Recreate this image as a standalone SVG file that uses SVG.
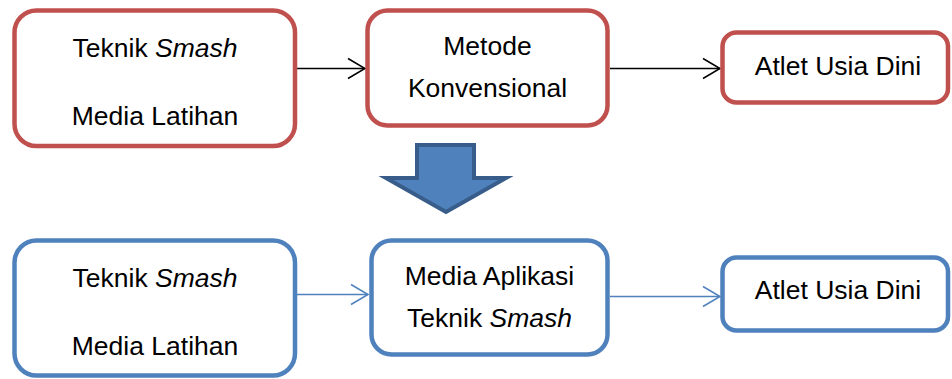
<svg xmlns="http://www.w3.org/2000/svg" width="952" height="379" viewBox="0 0 952 379">
<defs>
<style>
.box{fill:#fff;stroke-width:4.5}
.red{stroke:#C0504D}
.blue{stroke:#4F81BD}
.t{font-family:"Liberation Sans",Arial,sans-serif;font-size:26.5px;fill:#000;text-anchor:middle}
.i{font-style:italic}
.c{fill:none;stroke-width:1.5}
</style>
<marker id="ab" viewBox="0 0 20 24" markerWidth="20" markerHeight="24" refX="18" refY="12" orient="auto" markerUnits="userSpaceOnUse">
<path d="M1,2 L18,12 L1,22" fill="none" stroke="#000" stroke-width="1.5"/>
</marker>
<marker id="abl" viewBox="0 0 20 24" markerWidth="20" markerHeight="24" refX="18" refY="12" orient="auto" markerUnits="userSpaceOnUse">
<path d="M1,2 L18,12 L1,22" fill="none" stroke="#4F81BD" stroke-width="1.5"/>
</marker>
</defs>
<g id="connectors">
<line class="c" x1="297" y1="68.5" x2="365" y2="68.5" stroke="#000" marker-end="url(#ab)"/>
<line class="c" x1="610" y1="68.5" x2="720" y2="68.5" stroke="#000" marker-end="url(#ab)"/>
<line class="c" x1="297" y1="294.5" x2="368" y2="294.5" stroke="#4F81BD" marker-end="url(#abl)"/>
<line class="c" x1="610" y1="296.5" x2="720" y2="296.5" stroke="#4F81BD" marker-end="url(#abl)"/>
</g>
<g id="n1">
<rect class="box red" x="14.5" y="10.5" width="280.5" height="135.5" rx="22"/>
<text class="t" x="155" y="57">Teknik <tspan class="i">Smash</tspan></text>
<text class="t" x="155" y="125">Media Latihan</text>
</g>
<g id="n2">
<rect class="box red" x="367.5" y="10.5" width="240" height="115" rx="20"/>
<text class="t" x="487.5" y="55">Metode</text>
<text class="t" x="487.5" y="97">Konvensional</text>
</g>
<g id="n3">
<rect class="box red" x="722.5" y="32.5" width="225.5" height="70" rx="14"/>
<text class="t" x="838" y="75">Atlet Usia Dini</text>
</g>
<g id="bigarrow">
<path d="M417,145 L474,145 L474,178 L506,178 L446,212 L386,178 L417,178 Z" fill="#4F81BD" stroke="#385D8A" stroke-width="4" stroke-linejoin="miter"/>
</g>
<g id="n4">
<rect class="box blue" x="14.5" y="240.5" width="280.5" height="135" rx="22"/>
<text class="t" x="155" y="287">Teknik <tspan class="i">Smash</tspan></text>
<text class="t" x="155" y="355">Media Latihan</text>
</g>
<g id="n5">
<rect class="box blue" x="371.5" y="240.5" width="236" height="114" rx="20"/>
<text class="t" x="489.5" y="285">Media Aplikasi</text>
<text class="t" x="489.5" y="327">Teknik <tspan class="i">Smash</tspan></text>
</g>
<g id="n6">
<rect class="box blue" x="722.5" y="257.5" width="225.5" height="73" rx="14"/>
<text class="t" x="838" y="299">Atlet Usia Dini</text>
</g>
</svg>
